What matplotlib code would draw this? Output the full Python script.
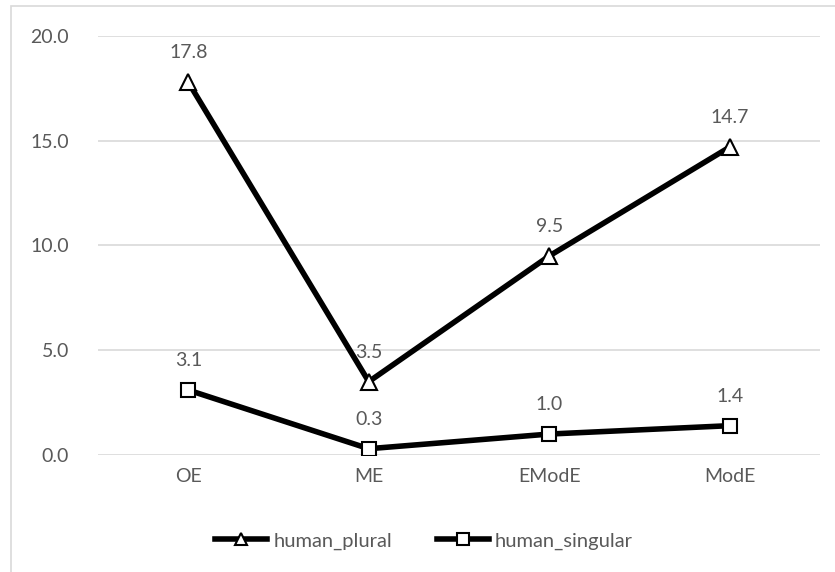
import matplotlib.pyplot as plt
from matplotlib.patches import Rectangle

periods = ["OE", "ME", "EModE", "ModE"]
human_plural = [17.8, 3.5, 9.5, 14.7]
human_singular = [3.1, 0.3, 1.0, 1.4]
y_ticks = [0, 5, 10, 15, 20]

plt.rcParams["font.family"] = ["Lato", "DejaVu Sans"]
grey = "#595959"

fig = plt.figure(figsize=(8.35, 5.72), dpi=100)
# outer chart frame
fig.patches.append(Rectangle((11 / 835, -0.1), 1.0, 1 - 6 / 572 + 0.1,
                             transform=fig.transFigure, fill=False,
                             edgecolor="#d9d9d9", linewidth=1.2))

ax = fig.add_axes([98 / 835, 1 - 455 / 572, 722 / 835, 419 / 572])
x = range(len(periods))

ax.plot(x, human_plural, color="black", linewidth=4, marker="^",
        markersize=11, markerfacecolor="white", markeredgecolor="black",
        markeredgewidth=1.5, label="human_plural", zorder=3)
ax.plot(x, human_singular, color="black", linewidth=4, marker="s",
        markersize=10, markerfacecolor="white", markeredgecolor="black",
        markeredgewidth=1.5, label="human_singular", zorder=3)

for series in (human_plural, human_singular):
    for i, v in enumerate(series):
        ax.annotate(f"{v:.1f}", (i, v), xytext=(0, 21), textcoords="offset points",
                    ha="center", va="center", fontsize=14, color=grey)

ax.set_xlim(-0.5, len(periods) - 0.5)
ax.set_ylim(0, 20)
ax.set_yticks(y_ticks)
ax.set_yticklabels([f"{t:.1f}" for t in y_ticks])
ax.set_xticks(list(x))
ax.set_xticklabels(periods)
ax.tick_params(axis="both", length=0, labelsize=14, labelcolor=grey)
ax.tick_params(axis="y", pad=21)
ax.tick_params(axis="x", pad=9)
ax.grid(axis="y", color="#d9d9d9", linewidth=1.2)
ax.set_axisbelow(True)
for s in ax.spines.values():
    s.set_visible(False)

leg = fig.legend(loc="center", bbox_to_anchor=(424 / 835, 1 - 541 / 572),
                 ncol=2, frameon=False, fontsize=14.5, handlelength=2.6,
                 handletextpad=0.3, columnspacing=2.2, markerscale=0.85)
for t in leg.get_texts():
    t.set_color(grey)

fig.savefig("out.png", dpi=100)
